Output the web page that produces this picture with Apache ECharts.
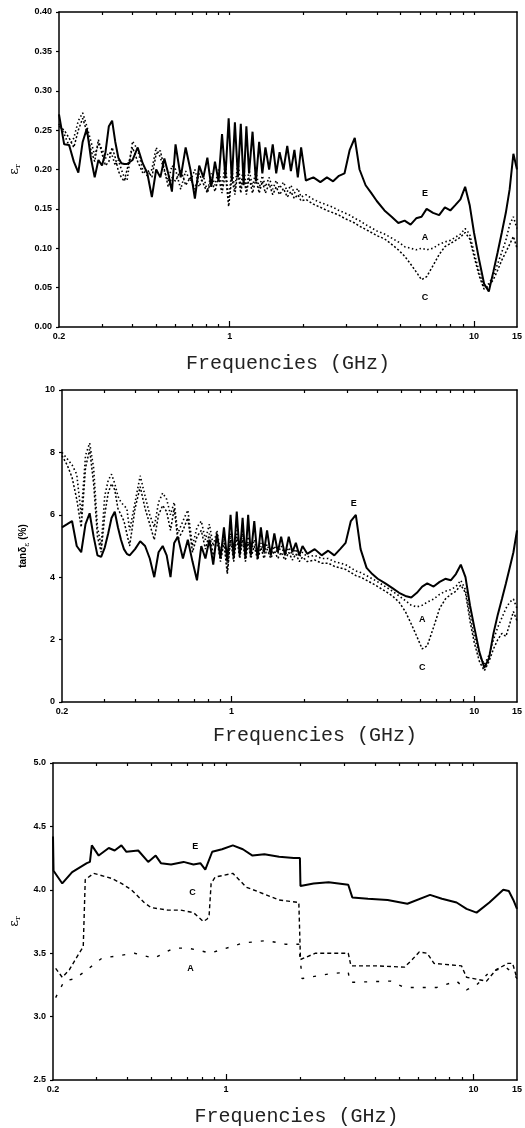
<!DOCTYPE html>
<html><head><meta charset="utf-8">
<script src="https://cdn.jsdelivr.net/npm/echarts@6/dist/echarts.min.js"></script>
<style>html,body{margin:0;padding:0;background:#fff}#c{width:525px;height:1128px}</style>
</head><body><div id="c"></div>
<script>
// ---------- shared frequency grid (GHz) for panels 1 and 2 ----------
const freqs = [
 0.20,0.21,0.22,0.23,0.24,0.25,0.26,0.27,0.28,0.29,
 0.30,0.31,0.32,0.33,0.34,0.35,0.36,0.37,0.38,0.40,
 0.42,0.44,0.46,0.48,0.50,0.52,0.54,0.56,0.58,0.60,
 0.63,0.66,0.69,0.72,0.75,0.78,0.81,0.84,0.87,0.90,
 0.93,0.96,0.99,1.02,1.05,1.08,1.11,1.14,1.17,1.20,
 1.24,1.28,1.32,1.36,1.40,1.45,1.50,1.55,1.60,1.66,
 1.72,1.78,1.84,1.90,1.96,2.05,2.2,2.35,2.5,2.65,
 2.8,2.95,3.1,3.25,3.4,3.6,3.8,4.0,4.3,4.6,
 4.9,5.2,5.5,5.8,6.1,6.4,6.8,7.2,7.6,8.0,
 8.4,8.8,9.2,9.6,10.0,10.5,11.0,11.5,12.0,12.5,
 13.0,13.5,14.0,14.5,15.0];

// ---------- panel 1: eps'' ----------
const p1E = [
 0.27,0.232,0.231,0.21,0.196,0.235,0.252,0.215,0.19,0.212,
 0.205,0.222,0.255,0.262,0.235,0.215,0.208,0.207,0.207,0.212,
 0.228,0.208,0.195,0.165,0.2,0.19,0.214,0.195,0.172,0.232,
 0.19,0.228,0.2,0.163,0.205,0.19,0.215,0.178,0.21,0.185,
 0.245,0.19,0.265,0.185,0.26,0.19,0.258,0.18,0.255,0.195,
 0.248,0.185,0.235,0.195,0.228,0.2,0.232,0.195,0.222,0.2,
 0.23,0.198,0.225,0.19,0.228,0.186,0.19,0.184,0.19,0.185,
 0.192,0.195,0.225,0.24,0.2,0.18,0.17,0.16,0.148,0.14,
 0.132,0.135,0.13,0.138,0.14,0.15,0.145,0.142,0.152,0.148,
 0.155,0.162,0.178,0.155,0.12,0.085,0.055,0.045,0.07,0.095,
 0.12,0.145,0.175,0.22,0.2];
const p1A = [
 0.258,0.245,0.23,0.24,0.262,0.272,0.255,0.236,0.218,0.232,
 0.226,0.214,0.222,0.218,0.205,0.212,0.2,0.19,0.186,0.236,
 0.225,0.2,0.192,0.2,0.228,0.215,0.198,0.185,0.205,0.2,
 0.175,0.198,0.185,0.2,0.178,0.192,0.172,0.195,0.18,0.2,
 0.178,0.208,0.16,0.2,0.175,0.21,0.178,0.205,0.175,0.2,
 0.178,0.198,0.176,0.192,0.178,0.19,0.175,0.186,0.176,0.184,
 0.172,0.18,0.17,0.176,0.165,0.168,0.162,0.158,0.155,0.152,
 0.148,0.145,0.142,0.138,0.135,0.13,0.126,0.122,0.118,0.113,
 0.108,0.102,0.1,0.098,0.1,0.098,0.1,0.105,0.108,0.11,
 0.114,0.118,0.125,0.118,0.095,0.07,0.05,0.055,0.065,0.08,
 0.095,0.11,0.13,0.14,0.125];
const p1C = [
 0.255,0.25,0.24,0.228,0.25,0.265,0.248,0.225,0.21,0.238,
 0.22,0.205,0.21,0.228,0.215,0.198,0.19,0.185,0.2,0.228,
 0.21,0.196,0.2,0.19,0.22,0.224,0.2,0.178,0.19,0.185,
 0.2,0.18,0.19,0.175,0.195,0.182,0.17,0.188,0.172,0.19,
 0.17,0.195,0.153,0.19,0.168,0.198,0.17,0.195,0.168,0.19,
 0.17,0.188,0.17,0.185,0.17,0.182,0.168,0.178,0.168,0.176,
 0.165,0.172,0.163,0.168,0.16,0.162,0.156,0.152,0.148,0.145,
 0.142,0.138,0.135,0.132,0.128,0.124,0.12,0.116,0.112,0.105,
 0.098,0.09,0.08,0.07,0.06,0.064,0.078,0.092,0.102,0.106,
 0.11,0.114,0.12,0.112,0.09,0.065,0.048,0.052,0.06,0.072,
 0.085,0.095,0.105,0.115,0.1];
const p1LabNames = ['E','A','C'];
const p1LabF = [6.3, 6.3, 6.3];
const p1LabV = [0.169, 0.113, 0.038];

// ---------- panel 2: tan delta (%) ----------
const p2E = [
 5.6,5.7,5.8,5.0,4.8,5.7,6.05,5.3,4.7,4.65,
 4.95,5.4,5.9,6.1,5.6,5.2,4.9,4.75,4.7,4.9,
 5.15,5.0,4.6,4.0,4.8,5.0,4.7,4.0,5.1,5.3,
 4.6,5.2,4.5,3.9,5.0,4.6,5.2,4.4,5.4,4.6,
 5.6,4.5,6.0,4.6,6.1,4.7,5.9,4.6,6.0,4.7,
 5.8,4.6,5.6,4.8,5.5,4.7,5.4,4.8,5.3,4.7,
 5.3,4.8,5.1,4.7,5.0,4.75,4.9,4.7,4.85,4.7,
 4.9,5.1,5.8,6.0,4.9,4.3,4.1,3.95,3.8,3.65,
 3.5,3.4,3.35,3.5,3.7,3.8,3.7,3.85,3.95,3.9,
 4.1,4.4,4.0,3.1,2.4,1.6,1.1,1.4,2.2,2.8,
 3.3,3.8,4.3,4.8,5.5];
const p2A = [
 8.0,7.8,7.6,7.3,6.0,7.9,8.3,7.5,5.6,5.0,
 6.6,7.1,7.3,7.0,6.6,6.4,6.3,6.2,5.5,6.4,
 7.25,6.6,6.0,5.6,6.4,6.7,6.5,6.0,6.4,5.4,
 5.8,6.15,5.0,5.6,5.8,5.2,5.7,5.0,5.5,4.8,
 5.3,4.2,5.4,4.7,5.5,4.8,5.4,4.7,5.3,4.8,
 5.2,4.7,5.1,4.75,5.05,4.7,5.0,4.75,5.0,4.7,
 4.95,4.7,4.9,4.65,4.8,4.65,4.7,4.6,4.6,4.5,
 4.45,4.4,4.3,4.2,4.15,4.05,3.95,3.85,3.7,3.55,
 3.4,3.25,3.1,3.05,3.1,3.2,3.3,3.45,3.55,3.6,
 3.7,3.9,3.6,2.8,2.1,1.5,1.2,1.5,2.0,2.4,
 2.7,3.0,3.2,3.3,3.0];
const p2C = [
 7.9,7.6,7.2,6.5,5.6,7.5,8.1,7.0,5.3,4.8,
 6.0,6.7,7.0,6.8,6.2,6.0,5.8,5.4,5.0,6.2,
 6.9,6.2,5.7,5.2,6.0,6.3,6.1,5.5,6.2,5.2,
 5.5,5.9,4.8,5.3,5.5,4.9,5.4,4.7,5.2,4.5,
 5.1,4.1,5.2,4.5,5.3,4.6,5.2,4.5,5.1,4.6,
 5.0,4.55,4.95,4.6,4.9,4.6,4.85,4.6,4.8,4.55,
 4.8,4.55,4.75,4.5,4.65,4.5,4.55,4.45,4.45,4.35,
 4.3,4.25,4.15,4.05,4.0,3.9,3.8,3.7,3.55,3.4,
 3.2,2.9,2.5,2.1,1.7,1.8,2.4,3.0,3.3,3.45,
 3.55,3.75,3.5,2.6,1.9,1.3,1.0,1.3,1.7,2.0,
 2.2,2.1,2.5,2.9,2.6];
const p2LabNames = ['E','A','C'];
const p2LabF = [3.19, 6.1, 6.1];
const p2LabV = [6.35, 2.63, 1.12];

// ---------- panel 3: eps' ----------
const p3Ef = [0.2,0.201,0.218,0.239,0.274,0.282,0.287,0.306,0.336,0.355,0.378,0.396,0.442,0.485,0.52,0.546,0.6,0.674,0.739,0.788,0.825,0.88,0.964,1.066,1.17,1.28,1.43,1.64,1.88,1.99,2.0,2.26,2.6,3.12,3.24,3.75,4.5,5.41,6.68,7.46,8.55,9.38,10.3,11.6,13.2,13.9,14.5,15.0];
const p3Ev = [4.42,4.15,4.05,4.14,4.21,4.22,4.35,4.27,4.33,4.31,4.35,4.3,4.31,4.22,4.27,4.21,4.2,4.22,4.2,4.21,4.16,4.3,4.32,4.35,4.32,4.27,4.28,4.26,4.25,4.25,4.03,4.05,4.06,4.04,3.94,3.93,3.92,3.89,3.96,3.93,3.9,3.85,3.82,3.9,4.0,3.99,3.92,3.85];
const p3Cf = [0.205,0.218,0.233,0.255,0.265,0.27,0.292,0.345,0.378,0.415,0.467,0.498,0.582,0.656,0.739,0.81,0.84,0.855,0.871,0.904,1.066,1.21,1.37,1.64,1.97,2.0,2.3,3.12,3.2,4.1,5.26,5.66,6.04,6.5,6.93,8.95,9.1,9.38,11.3,12.35,13.8,14.4,15.0];
const p3Cv = [3.38,3.31,3.37,3.5,3.55,4.08,4.13,4.09,4.05,4.0,3.9,3.86,3.84,3.84,3.82,3.75,3.77,3.8,4.05,4.1,4.13,4.02,3.98,3.92,3.9,3.45,3.5,3.5,3.4,3.4,3.39,3.45,3.51,3.5,3.42,3.4,3.39,3.31,3.28,3.37,3.42,3.42,3.3];
const p3Af = [0.205,0.222,0.246,0.279,0.315,0.426,0.512,0.615,0.7,0.788,0.863,1.17,1.46,1.75,1.97,2.03,2.67,3.12,3.17,4.63,5.26,7.12,8.55,9.38,10.3,11.6,13.5,14.5,15.0];
const p3Av = [3.15,3.28,3.3,3.38,3.46,3.5,3.46,3.54,3.54,3.52,3.5,3.58,3.6,3.57,3.57,3.3,3.34,3.35,3.27,3.28,3.23,3.23,3.28,3.21,3.25,3.35,3.39,3.34,3.3];
const p3LabNames = ['E','C','A'];
const p3LabF = [0.752, 0.732, 0.719];
const p3LabV = [4.34, 3.975, 3.38];

// ---------- axis ticks / labels (GHz) ----------
const xLabelVals = [0.2, 1, 10, 15];
const xMajorTicks = [1, 10];
const xMinorTicks = [0.3,0.4,0.5,0.6,0.7,0.8,0.9,2,3,4,5,6,7,8,9];
const xMin = 0.2, xMax = 15;

// ---------- build ----------
const L = Math.log10;
const BLACK = '#000';
const lblFont = {fontFamily:'Liberation Sans', fontWeight:'bold', fontSize:9, color:BLACK};

const grids = [
  {left:54, top:12, width:468, height:315},
  {left:62, top:390, width:461, height:312},
  {left:51, top:763, width:471, height:318}
];
const yCfg = [
  {min:0, max:0.4, interval:0.05, fmt:v=>v.toFixed(2), gap:37,
   name:'{e|ε}{s|r}'},
  {min:0, max:10, interval:2, fmt:v=>String(v), gap:31,
   name:'{t|tanδ}{s|ε}{t| (%)}'},
  {min:2.5, max:5.0, interval:0.5, fmt:v=>v.toFixed(1), gap:31,
   name:'{e|ε}{s|r}'}
];
const titlePad = [0, 51, 23];
const titleGap = [27, 24, 27];

const xAxes = [], yAxes = [];
grids.forEach((g, i) => {
  const base = {type:'value', gridIndex:i, min:L(xMin), max:L(xMax),
                splitLine:{show:false}, axisPointer:{show:false}};
  xAxes.push(Object.assign({}, base, {
    position:'bottom',
    axisLine:{show:true, onZero:false, lineStyle:{color:BLACK, width:1.5}},
    axisTick:{show:true, inside:true, length:6, customValues:xMajorTicks.map(L), lineStyle:{color:BLACK, width:1.2}},
    axisLabel:Object.assign({show:true, margin:5, customValues:xLabelVals.map(L),
      formatter:v=>String(+Math.pow(10, v).toPrecision(2))}, lblFont),
    name:'Frequencies (GHz)', nameLocation:'middle', nameGap:titleGap[i],
    nameTextStyle:{fontFamily:'Liberation Mono', fontSize:20, color:'#222', padding:[0,0,0,titlePad[i]]}
  }));
  xAxes.push(Object.assign({}, base, {
    position:'bottom',
    axisLine:{show:false, onZero:false},
    axisTick:{show:true, inside:true, length:3, customValues:xMinorTicks.map(L), lineStyle:{color:BLACK, width:1.2}},
    axisLabel:{show:false}
  }));
  xAxes.push(Object.assign({}, base, {
    position:'top',
    axisLine:{show:true, onZero:false, lineStyle:{color:BLACK, width:1.5}},
    axisTick:{show:true, inside:true, length:3, customValues:xMajorTicks.concat(xMinorTicks).map(L), lineStyle:{color:BLACK, width:1.2}},
    axisLabel:{show:false}
  }));
  const c = yCfg[i];
  yAxes.push({
    type:'value', gridIndex:i, min:c.min, max:c.max, interval:c.interval, position:'left',
    splitLine:{show:false},
    axisLine:{show:true, onZero:false, lineStyle:{color:BLACK, width:1.5}},
    axisTick:{show:true, inside:false, length:3, lineStyle:{color:BLACK, width:1.2}},
    axisLabel:Object.assign({margin:7, formatter:c.fmt}, lblFont),
    name:c.name, nameLocation:'middle', nameGap:c.gap, nameRotate:90,
    nameTextStyle:{rich:{
      e:{fontFamily:'DejaVu Serif', fontSize:13, color:BLACK},
      t:{fontFamily:'Liberation Sans', fontWeight:'bold', fontSize:10, color:BLACK},
      s:{fontFamily:'DejaVu Serif', fontSize:8, color:BLACK, padding:[7,0,0,0]}
    }}
  });
  yAxes.push({
    type:'value', gridIndex:i, min:c.min, max:c.max, position:'right',
    splitLine:{show:false}, axisLine:{show:true, onZero:false, lineStyle:{color:BLACK, width:1.5}},
    axisTick:{show:false}, axisLabel:{show:false}
  });
});

function line(gi, fs, vs, lineStyle, labNames, labF, labV) {
  const s = {
    type:'line', xAxisIndex:3*gi, yAxisIndex:2*gi,
    data: fs.map((f, k) => [L(f), vs[k]]),
    showSymbol:false, symbol:'none', silent:true, animation:false,
    lineStyle:Object.assign({color:BLACK}, lineStyle)
  };
  if (labNames) {
    s.markPoint = {
      symbol:'circle', symbolSize:0, silent:true, animation:false,
      label:{show:true, position:'inside', formatter:p=>p.name,
             fontFamily:'Liberation Sans', fontWeight:'bold', fontSize:9, color:BLACK},
      data: labNames.map((n, k) => ({name:n, coord:[L(labF[k]), labV[k]]}))
    };
  }
  return s;
}
const solid = {type:'solid', width:2};
const dotA = {type:[1.5, 2.5], width:1.6};
const dotC = {type:[2, 2], width:1.5};
const dash3C = {type:[4, 3], width:1.4};
const dash3A = {type:[3, 9], width:1.4};

const series = [
  line(0, freqs, p1A, dotA),
  line(0, freqs, p1C, dotC),
  line(0, freqs, p1E, solid, p1LabNames, p1LabF, p1LabV),
  line(1, freqs, p2A, dotA),
  line(1, freqs, p2C, dotC),
  line(1, freqs, p2E, solid, p2LabNames, p2LabF, p2LabV),
  line(2, p3Af, p3Av, dash3A),
  line(2, p3Cf, p3Cv, dash3C),
  line(2, p3Ef, p3Ev, solid, p3LabNames, p3LabF, p3LabV)
];

const chart = echarts.init(document.getElementById('c'), null, {renderer:'canvas'});
chart.setOption({
  backgroundColor:'#fff',
  animation:false,
  grid:grids.map(g => Object.assign({containLabel:false, show:false}, g)),
  xAxis:xAxes,
  yAxis:yAxes,
  series:series
});
</script>
</body></html>
